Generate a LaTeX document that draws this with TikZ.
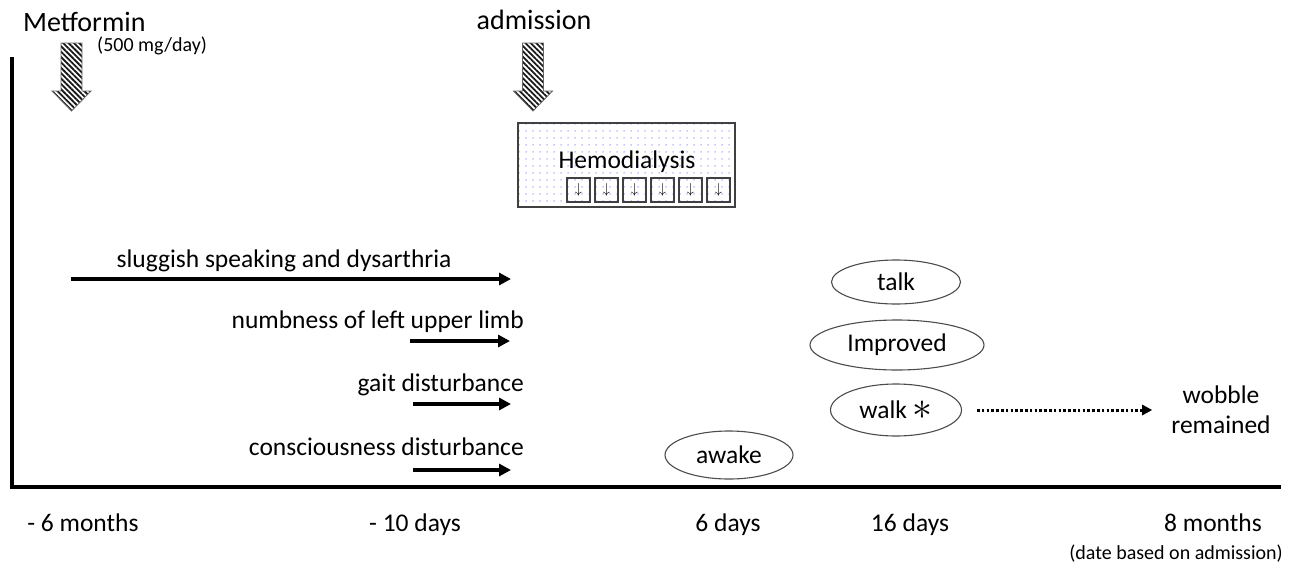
\documentclass[tikz,border=0pt]{standalone}
\usepackage{fontspec}
\setmainfont{Carlito}
\usetikzlibrary{positioning,shapes.geometric,patterns.meta,arrows.meta}

\tikzset{
  title/.style={inner sep=0pt, font=\fontsize{28}{32}\selectfont},
  lbl/.style={inner sep=0pt, font=\fontsize{25.5}{30}\selectfont},
  note/.style={inner sep=0pt, font=\fontsize{20}{24}\selectfont},
  event/.style={ellipse, draw=black!70, line width=1.1pt, inner sep=0pt, font=\fontsize{25.5}{30}\selectfont},
  symarrow/.style={line width=3.5pt, -{Triangle[length=12pt,width=12pt]}},
  dotarrow/.style={line width=3pt, dash pattern=on 2.6pt off 2.2pt, -{Triangle[length=10pt,width=10pt]}},
  hatch/.style={draw=black!60, line width=0.8pt, pattern={Lines[angle=-45,distance=3.8pt,line width=1.8pt]}, pattern color=black!90},
  hdbox/.style={draw=black!75, line width=1.3pt, minimum width=23pt, minimum height=24pt, inner sep=0pt, font=\fontsize{15}{15}\selectfont},
}

\begin{document}
\begin{tikzpicture}[x=1pt, y=-1pt]
\useasboundingbox (0,0) rectangle (1290,571);

% axes
\coordinate (top) at (12,57);
\coordinate (origin) at (12,487);
\coordinate (end) at (1281,487);
\draw[line width=3.5pt] (top) -- (origin) -- (end);

% metformin and admission
\node[title, anchor=west] (met) at (23,22) {Metformin};
\node[note, anchor=west] (dose) at (97,46) {(500 mg/day)};
\draw[hatch] (61,43) -- ++(21,0) -- ++(0,48) -- ++(9,0) -- ++(-19.5,20) -- ++(-19.5,-20) -- ++(9,0) -- cycle;

\node[title] (adm) at (534,20) {admission};
\draw[hatch] (522.5,43) -- ++(21,0) -- ++(0,48) -- ++(9,0) -- ++(-19.5,20) -- ++(-19.5,-20) -- ++(9,0) -- cycle;

% hemodialysis
\node[draw=black!75, line width=1.3pt, pattern={Dots[distance=6.5pt,radius=0.75pt]}, pattern color=blue!55,
      minimum width=217pt, minimum height=84pt] (hdframe) at (626.5,165) {};
\node[lbl] (hd) at (627,162) {Hemodialysis};
\foreach \i in {0,...,5}
  \node[hdbox] (hd\i) at (578.5+28*\i,190) {$\downarrow$};

% symptoms
\node[lbl] (slug) at (284,261) {sluggish speaking and dysarthria};
\coordinate (slugA) at (71,279);
\coordinate (slugB) at (511,279);
\draw[symarrow] (slugA) -- (slugB);

\node[lbl, anchor=east] (numb) at (524,322) {numbness of left upper limb};
\coordinate (numbA) at (410,341);
\coordinate (numbB) at (510,341);
\draw[symarrow] (numbA) -- (numbB);

\node[lbl, anchor=east] (gait) at (524,385) {gait disturbance};
\coordinate (gaitA) at (413,404);
\coordinate (gaitB) at (511,404);
\draw[symarrow] (gaitA) -- (gaitB);

\node[lbl, anchor=east] (cons) at (524,447) {consciousness disturbance};
\coordinate (consA) at (413,470);
\coordinate (consB) at (511,470);
\draw[symarrow] (consA) -- (consB);

% recovery
\node[event, minimum width=128pt, minimum height=48pt] (awake) at (729,455) {awake};
\node[event, minimum width=129pt, minimum height=44pt] (talk) at (896,282) {talk};
\node[event, minimum width=174pt, minimum height=50pt] (impr) at (897,345) {Improved};
\node[event, minimum width=131pt, minimum height=52pt] (walk) at (896,410) {walk~\raisebox{-1pt}{\scalebox{1.6}{$\ast$}}};
\node[lbl, align=center] (wobble) at (1221,410) {wobble\\remained};
\draw[dotarrow, shorten <=15pt, shorten >=19pt] (walk) -- (wobble);

% time labels
\node[lbl, anchor=base] (t1) at (83,531) {- 6 months};
\node[lbl, anchor=base] (t2) at (415,531) {- 10 days};
\node[lbl, anchor=base] (t3) at (728,531) {6 days};
\node[lbl, anchor=base] (t4) at (910,531) {16 days};
\node[lbl, anchor=base] (t5) at (1213,531) {8 months};
\node[note, anchor=east] (basis) at (1283,554) {(date based on admission)};

\end{tikzpicture}
\end{document}
